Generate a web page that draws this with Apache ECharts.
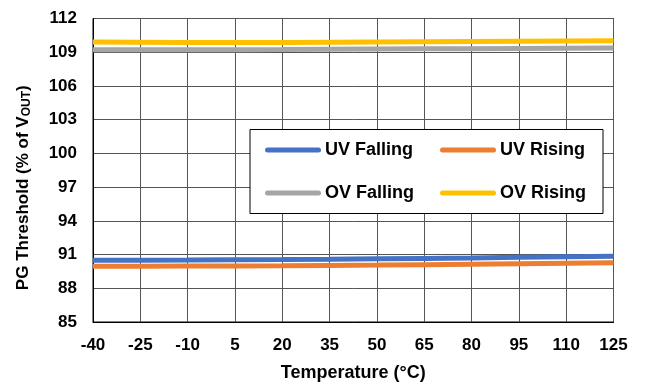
<!DOCTYPE html>
<html>
<head>
<meta charset="utf-8">
<script src="https://cdn.jsdelivr.net/npm/echarts@6/dist/echarts.min.js"></script>
<style>html,body{margin:0;padding:0;background:#fff;}#c{width:645px;height:387px;}</style>
</head>
<body>
<div id="c"></div>
<script>
var temps = [-40, -25, -10, 5, 20, 35, 50, 65, 80, 95, 110, 125];
var uvFalling = [90.50, 90.50, 90.51, 90.53, 90.55, 90.58, 90.62, 90.66, 90.70, 90.75, 90.80, 90.85];
var uvRising  = [89.97, 89.97, 89.98, 89.99, 90.00, 90.03, 90.06, 90.10, 90.14, 90.18, 90.22, 90.26];
var ovFalling = [109.22, 109.22, 109.22, 109.23, 109.24, 109.26, 109.28, 109.30, 109.32, 109.34, 109.36, 109.38];
var ovRising  = [109.90, 109.88, 109.86, 109.86, 109.87, 109.89, 109.91, 109.93, 109.95, 109.97, 109.99, 110.01];
var seriesNames = ['UV Falling', 'UV Rising', 'OV Falling', 'OV Rising'];
var colors = ['#4472C4', '#ED7D31', '#A5A5A5', '#FFC000'];

function pairs(v) { return temps.map(function (t, i) { return [t, v[i]]; }); }
var allData = [uvFalling, uvRising, ovFalling, ovRising];
var font = '"Liberation Sans", Arial, sans-serif';

var chart = echarts.init(document.getElementById('c'), null, {renderer: 'canvas'});
chart.setOption({
  animation: false,
  backgroundColor: '#fff',
  grid: {left: 93, right: 31.5, top: 18.5, bottom: 64.5, show: true, borderColor: '#000', borderWidth: 1},
  xAxis: {
    type: 'value', min: -40, max: 125, interval: 15,
    name: 'Temperature (°C)', nameLocation: 'middle', nameGap: 42,
    nameTextStyle: {fontFamily: font, fontWeight: 'bold', fontSize: 18, color: '#000'},
    axisLine: {show: true, onZero: false, lineStyle: {color: '#000', width: 1}},
    axisTick: {show: false},
    axisLabel: {margin: 15, fontFamily: font, fontWeight: 'bold', fontSize: 17, color: '#000'},
    splitLine: {show: true, lineStyle: {color: '#555', width: 1}}
  },
  yAxis: {
    type: 'value', min: 85, max: 112, interval: 3,
    name: '{a|PG Threshold (% of V}{s|OUT}{a|)}', nameLocation: 'middle', nameGap: 60, nameRotate: 90,
    nameTextStyle: {
      padding: [0, 35, 0, 0],
      rich: {
        a: {fontFamily: font, fontWeight: 'bold', fontSize: 17, color: '#000'},
        s: {fontFamily: font, fontWeight: 'bold', fontSize: 12, color: '#000', padding: [8, 0, 0, 0]}
      }
    },
    axisLine: {show: true, onZero: false, lineStyle: {color: '#000', width: 1}},
    axisTick: {show: false},
    axisLabel: {margin: 16, fontFamily: font, fontWeight: 'bold', fontSize: 17, color: '#000'},
    splitLine: {show: true, lineStyle: {color: '#555', width: 1}}
  },
  legend: {
    left: 250, top: 129.5, width: 335,
    orient: 'horizontal',
    padding: [11, 12, 11, 15],
    itemGap: 24,
    itemWidth: 56, itemHeight: 5,
    backgroundColor: '#fff',
    borderColor: '#000', borderWidth: 1,
    icon: 'path://M2.5,0 L53.5,0 A2.5,2.5 0 0 1 53.5,5 L2.5,5 A2.5,2.5 0 0 1 2.5,0 Z',
    textStyle: {fontFamily: font, fontWeight: 'bold', fontSize: 18, color: '#000', width: 91, lineHeight: 19, padding: [0, 0, 0, -1]},
    data: seriesNames
  },
  series: seriesNames.map(function (n, i) {
    return {
      name: n, type: 'line', data: pairs(allData[i]),
      showSymbol: false, symbol: 'none', smooth: false,
      color: colors[i],
      lineStyle: {color: colors[i], width: 5},
      z: 3
    };
  })
});
</script>
</body>
</html>
